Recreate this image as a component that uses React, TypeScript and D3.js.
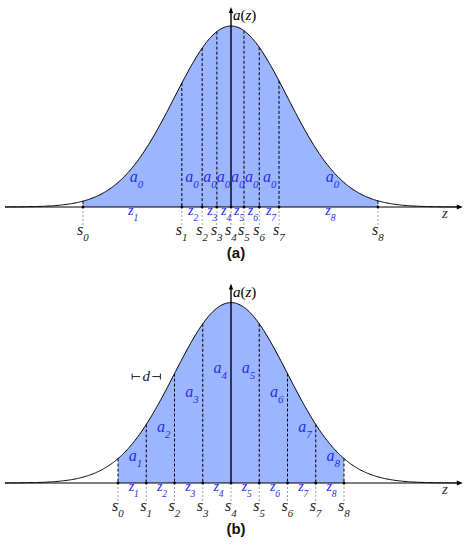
import React from "react";
import * as d3 from "d3";

// boundaries s0..s8 and label positions, in units of sigma
const sA = [-2.62, -0.87, -0.51, -0.25, 0, 0.23, 0.5, 0.85, 2.6];
const zLabelA = [-1.76, -0.7, -0.36, -0.115, 0.115, 0.36, 0.68, 1.73];
const aLabelA = [-1.73, -0.75, -0.43, -0.19, 0.06, 0.31, 0.63, 1.74];
const aLevelA = [0.138, 0.138, 0.138, 0.138, 0.138, 0.138, 0.138, 0.138];
const aSubA = ["0", "0", "0", "0", "0", "0", "0", "0"];

const sB = [-2, -1.5, -1, -0.5, 0, 0.5, 1, 1.5, 2];
const zLabelB = [-1.75, -1.25, -0.75, -0.25, 0.25, 0.75, 1.25, 1.75];
const aLabelB = [-1.75, -1.25, -0.75, -0.25, 0.25, 0.75, 1.25, 1.75];
const aLevelB = [0.12, 0.28, 0.475, 0.61, 0.61, 0.475, 0.28, 0.12];
const aSubB = ["1", "2", "3", "4", "5", "6", "7", "8"];

const FILL = "#9bb5fe";
const BLUE = "#2a2af0";
const MATH = "'Liberation Serif', 'DejaVu Serif', serif";

const x = d3.scaleLinear().domain([-4, 4]).range([5, 457]);
const gauss = (t: number) => Math.exp((-t * t) / 2);

type PanelProps = {
  base: number;
  top: number;
  s: number[];
  zl: number[];
  al: number[];
  alevel: number[];
  asub: string[];
  tag: string;
  showD?: boolean;
};

const Sub = ({ px, py, main, sub, color, size = 16 }: any) => (
  <text x={px} y={py} fontFamily={MATH} fontStyle="italic" fontSize={size} fill={color}>
    <tspan>{main}</tspan>
    <tspan dy={6} fontSize={size * 0.68}>{sub}</tspan>
  </text>
);

const Panel = ({ base, top, s, zl, al, alevel, asub, tag, showD }: PanelProps) => {
  const y = d3.scaleLinear().domain([0, 1]).range([base, top]);
  const pts = d3.range(-4, 4.0001, 0.02);
  const curve = d3.line<number>().x((t) => x(t)).y((t) => y(gauss(t)))(pts) || "";
  const fillPts = d3.range(s[0], s[s.length - 1] + 0.0001, 0.01);
  const area =
    d3
      .area<number>()
      .x((t) => x(t))
      .y0(y(0))
      .y1((t) => y(gauss(t)))(fillPts) || "";
  const cx = x(0);
  const axEnd = x(4.05);
  const d = x(s[1]) - x(s[0]);
  const dLeft = x(-1.75);
  const dY = y(0.59);

  return (
    <g>
      <path d={area} fill={FILL} />
      {s.map((v, i) =>
        i === 4 ? null : (
          <line key={"b" + i} x1={x(v)} x2={x(v)} y1={y(gauss(v))} y2={base} stroke="#000" strokeWidth={1} strokeDasharray="3,2" />
        )
      )}
      {s.map((v, i) => (
        <line key={"g" + i} x1={x(v)} x2={x(v)} y1={base} y2={base + 21} stroke="#888" strokeWidth={0.8} strokeDasharray="2,2" />
      ))}
      <path d={curve} fill="none" stroke="#000" strokeWidth={1} />
      {/* axes */}
      <line x1={x(-4)} x2={axEnd} y1={base} y2={base} stroke="#000" strokeWidth={1.2} />
      <path d={`M${axEnd + 3},${base} L${axEnd - 3},${base - 2.5} L${axEnd - 3},${base + 2.5} Z`} fill="#000" />
      <line x1={cx} x2={cx} y1={base} y2={top - 16} stroke="#000" strokeWidth={1.4} />
      <path d={`M${cx},${top - 19} L${cx - 2.2},${top - 13} L${cx + 2.2},${top - 13} Z`} fill="#000" />
      {s.map((v, i) => (
        <circle key={"c" + i} cx={x(v)} cy={base} r={1.4} fill="#000" />
      ))}
      <text x={cx + 2} y={top - 6} fontFamily={MATH} fontSize={15}>
        <tspan fontStyle="italic">a</tspan>(<tspan fontStyle="italic">z</tspan>)
      </text>
      <text x={442} y={base + 11} fontFamily={MATH} fontStyle="italic" fontSize={15} fill="#333">z</text>
      {/* labels */}
      {al.map((v, i) => (
        <Sub key={"a" + i} px={x(v) - 3.5} py={y(alevel[i])} main="a" sub={asub[i]} color={BLUE} />
      ))}
      {zl.map((v, i) => (
        <Sub key={"z" + i} px={x(v) - 3.5} py={base + 8} main="z" sub={String(i + 1)} color={BLUE} size={14} />
      ))}
      {s.map((v, i) => (
        <Sub key={"s" + i} px={x(v) - 6} py={base + 28} main="s" sub={String(i)} color="#222" />
      ))}
      {showD && (
        <g stroke="#222" strokeWidth={1}>
          <line x1={dLeft} x2={dLeft} y1={dY - 3} y2={dY + 3} />
          <line x1={dLeft} x2={dLeft + 8} y1={dY} y2={dY} />
          <line x1={dLeft + d - 8} x2={dLeft + d} y1={dY} y2={dY} />
          <line x1={dLeft + d} x2={dLeft + d} y1={dY - 3} y2={dY + 3} />
          <text x={dLeft + d / 2} y={dY + 4} textAnchor="middle" stroke="none" fill="#222" fontFamily={MATH} fontStyle="italic" fontSize={15}>d</text>
        </g>
      )}
      <text x={236} y={base + 51} textAnchor="middle" fontFamily="'Liberation Sans', Arial, sans-serif" fontWeight="bold" fontSize={15} fill="#111">
        {tag}
      </text>
    </g>
  );
};

export default function App() {
  return (
    <svg width={470} height={550} style={{ position: "absolute", left: 0, top: 0, background: "#fff" }}>
      <Panel base={207} top={26} s={sA} zl={zLabelA} al={aLabelA} alevel={aLevelA} asub={aSubA} tag="(a)" />
      <Panel base={483} top={302.6} s={sB} zl={zLabelB} al={aLabelB} alevel={aLevelB} asub={aSubB} tag="(b)" showD />
    </svg>
  );
}
